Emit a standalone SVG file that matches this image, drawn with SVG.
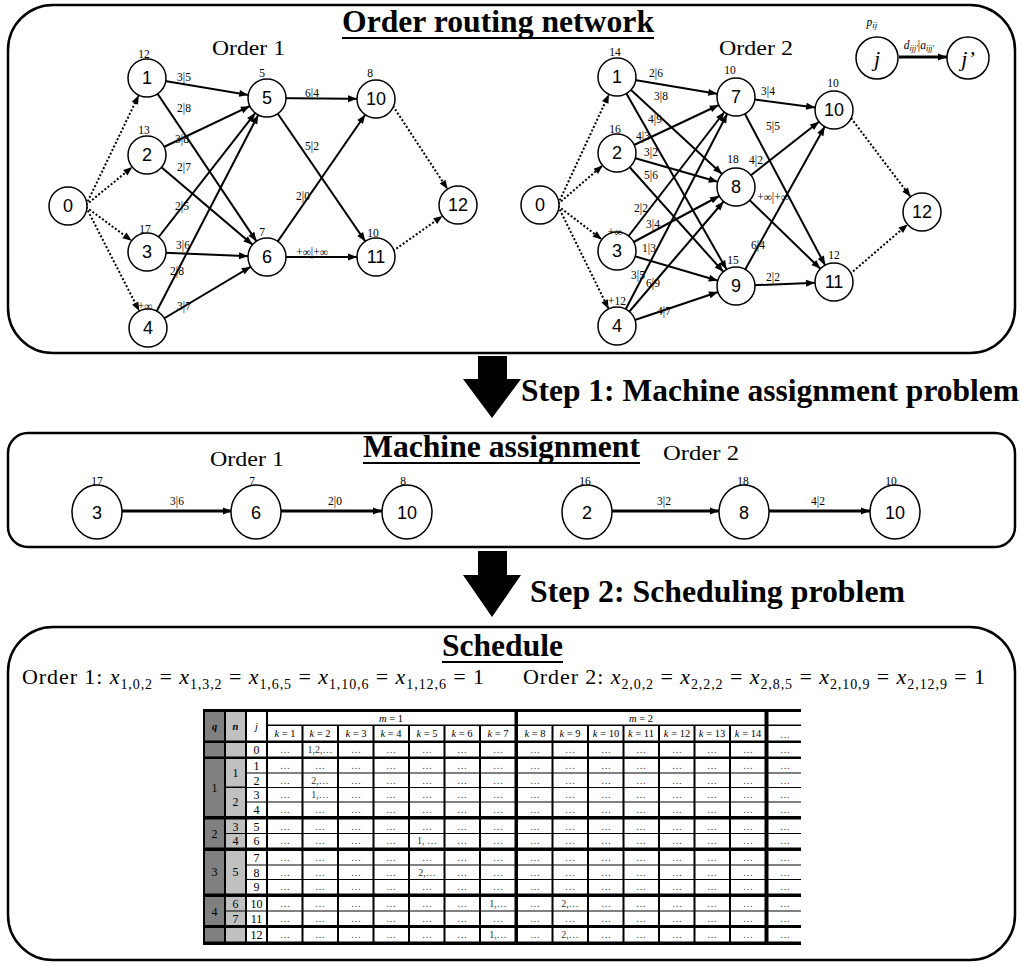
<svg xmlns="http://www.w3.org/2000/svg" width="1021" height="965" viewBox="0 0 1021 965">
<style>
.box{fill:none;stroke:#000;stroke-width:2.5}
.nd{fill:#fff;stroke:#000;stroke-width:1.5}
.nt{font-family:"Liberation Sans",Arial,sans-serif;font-size:18px;text-anchor:middle}
.lb{font-family:"Liberation Serif","Times New Roman",serif;font-size:11.5px;text-anchor:middle}
.e{stroke:#000;stroke-width:2;fill:none;marker-end:url(#a)}
.d{stroke:#000;stroke-width:2;stroke-dasharray:2 2;fill:none;marker-end:url(#a)}
.e2{stroke:#000;stroke-width:2.8;fill:none;marker-end:url(#b)}
.ttl{font-family:"Liberation Serif","Times New Roman",serif;font-weight:bold;font-size:31px}
.ord{font-family:"Liberation Serif","Times New Roman",serif;font-size:22px}
.it{font-style:italic}
.sub{font-size:14px}
.tc{font-family:"Liberation Serif","Times New Roman",serif;font-size:10px;text-anchor:middle;fill:#333}
.th{font-family:"Liberation Serif","Times New Roman",serif;font-size:10.5px;text-anchor:middle;fill:#000}
.tl{font-family:"Liberation Serif","Times New Roman",serif;font-size:12px;text-anchor:middle;fill:#000}
.wc{fill:#fff}
.qc{fill:#808080}
.nc{fill:#c0c0c0}
.big{fill:#000}
</style>
<defs>
<marker id="a" markerUnits="userSpaceOnUse" markerWidth="10" markerHeight="8" refX="28" refY="3.5" orient="auto" overflow="visible"><path d="M0,0 L9,3.5 L0,7 z" fill="#000"/></marker>
<marker id="b" markerUnits="userSpaceOnUse" markerWidth="10" markerHeight="8" refX="9" refY="3.5" orient="auto" overflow="visible"><path d="M0,0 L9,3.5 L0,7 z" fill="#000"/></marker>
</defs>
<rect width="1021" height="965" fill="#fff"/>

<g id="routing-box">
<rect class="box" x="8" y="5" width="1007" height="348" rx="45" ry="45"/>
<text class="ttl" x="342" y="32" textLength="312" lengthAdjust="spacingAndGlyphs">Order routing network</text>
<line x1="342" y1="38" x2="654" y2="38" stroke="#000" stroke-width="2"/>
<text class="ord" x="212" y="55" textLength="73" lengthAdjust="spacingAndGlyphs">Order 1</text>
<text class="ord" x="719" y="55" textLength="74" lengthAdjust="spacingAndGlyphs">Order 2</text>
</g>

<g id="step1-arrow">
<polygon class="big" points="478,356 507,356 507,379 521,379 492,418 463,379 478,379"/>
<text class="ttl" x="521" y="401" textLength="498" lengthAdjust="spacingAndGlyphs">Step 1: Machine assignment problem</text>
</g>

<g id="assign-box">
<rect class="box" x="8" y="433" width="1007" height="114" rx="20" ry="20"/>
<text class="ttl" x="363" y="457" textLength="277" lengthAdjust="spacingAndGlyphs">Machine assignment</text>
<line x1="363" y1="463" x2="640" y2="463" stroke="#000" stroke-width="2"/>
<text class="ord" x="210" y="466" textLength="74" lengthAdjust="spacingAndGlyphs">Order 1</text>
<text class="ord" x="663" y="460" textLength="76" lengthAdjust="spacingAndGlyphs">Order 2</text>
</g>

<g id="step2-arrow">
<polygon class="big" points="478,551 507,551 507,575 521,575 492,617 463,575 478,575"/>
<text class="ttl" x="530" y="602" textLength="375" lengthAdjust="spacingAndGlyphs">Step 2: Scheduling problem</text>
</g>

<g id="schedule-box">
<rect class="box" x="8" y="627" width="1007" height="333" rx="45" ry="45"/>
<text class="ttl" x="442" y="656" textLength="121" lengthAdjust="spacingAndGlyphs">Schedule</text>
<line x1="442" y1="662" x2="563" y2="662" stroke="#000" stroke-width="2"/>
<text class="ord" x="22" y="684" textLength="462" lengthAdjust="spacing">Order 1: <tspan class="it">x</tspan><tspan class="sub" dy="5">1,0,2</tspan><tspan dy="-5"> = </tspan><tspan class="it">x</tspan><tspan class="sub" dy="5">1,3,2</tspan><tspan dy="-5"> = </tspan><tspan class="it">x</tspan><tspan class="sub" dy="5">1,6,5</tspan><tspan dy="-5"> = </tspan><tspan class="it">x</tspan><tspan class="sub" dy="5">1,10,6</tspan><tspan dy="-5"> = </tspan><tspan class="it">x</tspan><tspan class="sub" dy="5">1,12,6</tspan><tspan dy="-5"> = 1</tspan></text>
<text class="ord" x="523" y="684" textLength="462" lengthAdjust="spacing">Order 2: <tspan class="it">x</tspan><tspan class="sub" dy="5">2,0,2</tspan><tspan dy="-5"> = </tspan><tspan class="it">x</tspan><tspan class="sub" dy="5">2,2,2</tspan><tspan dy="-5"> = </tspan><tspan class="it">x</tspan><tspan class="sub" dy="5">2,8,5</tspan><tspan dy="-5"> = </tspan><tspan class="it">x</tspan><tspan class="sub" dy="5">2,10,9</tspan><tspan dy="-5"> = </tspan><tspan class="it">x</tspan><tspan class="sub" dy="5">2,12,9</tspan><tspan dy="-5"> = 1</tspan></text>
</g>

<g id="connectors">
<path class="d" d="M86,205 L147,78"/>
<path class="d" d="M86,205 L147,155"/>
<path class="d" d="M86,207 L147,252"/>
<path class="d" d="M86,207 L148,328"/>
<path class="e" d="M147,78 L267,98"/>
<path class="e" d="M147,78 L267,257"/>
<path class="e" d="M147,155 L267,98"/>
<path class="e" d="M147,155 L267,257"/>
<path class="e" d="M147,252 L267,98"/>
<path class="e" d="M147,252 L267,257"/>
<path class="e" d="M148,328 L267,98"/>
<path class="e" d="M148,328 L267,257"/>
<path class="e" d="M267,98 L376,99"/>
<path class="e" d="M267,98 L376,257"/>
<path class="e" d="M267,257 L376,99"/>
<path class="e" d="M267,257 L376,257"/>
<path class="d" d="M393,106 L458,205"/>
<path class="d" d="M393,251 L458,205"/>
<text class="lb" x="184" y="81">3|5</text>
<text class="lb" x="184" y="112">2|8</text>
<text class="lb" x="182" y="143">3|8</text>
<text class="lb" x="184" y="171">2|7</text>
<text class="lb" x="182" y="210">2|5</text>
<text class="lb" x="183" y="249">3|6</text>
<text class="lb" x="177" y="275">2|8</text>
<text class="lb" x="184" y="310">3|7</text>
<text class="lb" x="312" y="97">6|4</text>
<text class="lb" x="312" y="150">5|2</text>
<text class="lb" x="303" y="200">2|0</text>
<text class="lb" x="312" y="256">+∞|+∞</text>
<path class="d" d="M558,204 L617,77"/>
<path class="d" d="M558,204 L617,153"/>
<path class="d" d="M558,206 L617,251"/>
<path class="d" d="M558,206 L617,326"/>
<path class="e" d="M617,77 L736,97"/>
<path class="e" d="M617,77 L736,187"/>
<path class="e" d="M617,77 L736,286"/>
<path class="e" d="M617,153 L736,97"/>
<path class="e" d="M617,153 L736,187"/>
<path class="e" d="M617,153 L736,286"/>
<path class="e" d="M617,251 L736,97"/>
<path class="e" d="M617,251 L736,187"/>
<path class="e" d="M617,251 L736,286"/>
<path class="e" d="M617,326 L736,97"/>
<path class="e" d="M617,326 L736,187"/>
<path class="e" d="M617,326 L736,286"/>
<path class="e" d="M736,97 L834,110"/>
<path class="e" d="M736,97 L834,282"/>
<path class="e" d="M736,187 L834,110"/>
<path class="e" d="M736,187 L834,282"/>
<path class="e" d="M736,286 L834,110"/>
<path class="e" d="M736,286 L834,282"/>
<path class="d" d="M851,118 L922,212"/>
<path class="d" d="M850,274 L922,212"/>
<text class="lb" x="656" y="77">2|6</text>
<text class="lb" x="661" y="100">3|8</text>
<text class="lb" x="655" y="123">4|9</text>
<text class="lb" x="643" y="140">4|3</text>
<text class="lb" x="651" y="156">3|2</text>
<text class="lb" x="651" y="179">5|6</text>
<text class="lb" x="641" y="212">2|2</text>
<text class="lb" x="653" y="228">3|4</text>
<text class="lb" x="649" y="252">1|3</text>
<text class="lb" x="638" y="279">3|5</text>
<text class="lb" x="653" y="287">6|9</text>
<text class="lb" x="664" y="315">4|7</text>
<text class="lb" x="768" y="95">3|4</text>
<text class="lb" x="773" y="130">5|5</text>
<text class="lb" x="756" y="164">4|2</text>
<text class="lb" x="773" y="201">+∞|+∞</text>
<text class="lb" x="758" y="249">6|4</text>
<text class="lb" x="773" y="281">2|2</text>
<path class="e2" d="M899,57 L947,57"/>
<text class="lb" x="919" y="49" font-size="13" font-style="italic">d<tspan font-size="8" dy="2">ijj'</tspan><tspan dy="-2" font-style="normal">|</tspan>a<tspan font-size="8" dy="2">ijj'</tspan></text>
<path class="e2" d="M122,511 L232,511"/>
<path class="e2" d="M281,511 L382,511"/>
<path class="e2" d="M612,511 L719,511"/>
<path class="e2" d="M769,511 L870,511"/>
<text class="lb" x="177" y="505" font-size="13">3|6</text>
<text class="lb" x="335" y="505" font-size="13">2|0</text>
<text class="lb" x="664" y="505" font-size="13">3|2</text>
<text class="lb" x="818" y="505" font-size="13">4|2</text>
</g>

<g id="o1-n0"><circle class="nd" cx="68" cy="206" r="19"/><text class="nt" x="68" y="212">0</text></g>
<g id="o1-n1"><circle class="nd" cx="147" cy="78" r="19"/><text class="nt" x="147" y="84">1</text><text class="lb" x="144" y="58">12</text></g>
<g id="o1-n2"><circle class="nd" cx="147" cy="155" r="19"/><text class="nt" x="147" y="161">2</text><text class="lb" x="144" y="134">13</text></g>
<g id="o1-n3"><circle class="nd" cx="147" cy="252" r="19"/><text class="nt" x="147" y="258">3</text><text class="lb" x="145" y="233">17</text></g>
<g id="o1-n4"><circle class="nd" cx="148" cy="328" r="19"/><text class="nt" x="148" y="334">4</text><text class="lb" x="145" y="310">+∞</text></g>
<g id="o1-n5"><circle class="nd" cx="267" cy="98" r="19"/><text class="nt" x="267" y="104">5</text><text class="lb" x="262" y="77">5</text></g>
<g id="o1-n6"><circle class="nd" cx="267" cy="257" r="19"/><text class="nt" x="267" y="263">6</text><text class="lb" x="262" y="236">7</text></g>
<g id="o1-n10"><circle class="nd" cx="376" cy="99" r="19"/><text class="nt" x="376" y="105">10</text><text class="lb" x="370" y="77">8</text></g>
<g id="o1-n11"><circle class="nd" cx="376" cy="257" r="19"/><text class="nt" x="376" y="263">11</text><text class="lb" x="373" y="237">10</text></g>
<g id="o1-n12"><circle class="nd" cx="458" cy="205" r="19"/><text class="nt" x="458" y="211">12</text></g>

<g id="o2-n0"><circle class="nd" cx="540" cy="205" r="19"/><text class="nt" x="540" y="211">0</text></g>
<g id="o2-n1"><circle class="nd" cx="617" cy="77" r="19"/><text class="nt" x="617" y="83">1</text><text class="lb" x="615" y="56">14</text></g>
<g id="o2-n2"><circle class="nd" cx="617" cy="153" r="19"/><text class="nt" x="617" y="159">2</text><text class="lb" x="615" y="133">16</text></g>
<g id="o2-n3"><circle class="nd" cx="617" cy="251" r="19"/><text class="nt" x="617" y="257">3</text><text class="lb" x="615" y="236">+∞</text></g>
<g id="o2-n4"><circle class="nd" cx="617" cy="326" r="19"/><text class="nt" x="617" y="332">4</text><text class="lb" x="617" y="305">+12</text></g>
<g id="o2-n7"><circle class="nd" cx="736" cy="97" r="19"/><text class="nt" x="736" y="103">7</text><text class="lb" x="730" y="74">10</text></g>
<g id="o2-n8"><circle class="nd" cx="736" cy="187" r="19"/><text class="nt" x="736" y="193">8</text><text class="lb" x="733" y="163">18</text></g>
<g id="o2-n9"><circle class="nd" cx="736" cy="286" r="19"/><text class="nt" x="736" y="292">9</text><text class="lb" x="733" y="264">15</text></g>
<g id="o2-n10"><circle class="nd" cx="834" cy="110" r="19"/><text class="nt" x="834" y="116">10</text><text class="lb" x="833" y="87">10</text></g>
<g id="o2-n11"><circle class="nd" cx="834" cy="282" r="19"/><text class="nt" x="834" y="288">11</text><text class="lb" x="834" y="259">12</text></g>
<g id="o2-n12"><circle class="nd" cx="922" cy="212" r="19"/><text class="nt" x="922" y="218">12</text></g>

<g id="legend-j"><circle class="nd" cx="877" cy="58" r="21"/><text class="ord it" x="877" y="66" text-anchor="middle">j</text><text class="lb it" x="872" y="26" font-size="14">p<tspan font-size="9" dy="2">ij</tspan></text></g>
<g id="legend-jp"><circle class="nd" cx="968" cy="58" r="21"/><text class="ord it" x="968" y="66" text-anchor="middle">j’</text></g>

<g id="ma-o1-3"><ellipse class="nd" cx="97" cy="512" rx="25" ry="27"/><text class="nt" x="97" y="519" font-size="20">3</text><text class="lb" x="97" y="485" font-size="14">17</text></g>
<g id="ma-o1-6"><ellipse class="nd" cx="256" cy="512" rx="25" ry="27"/><text class="nt" x="256" y="519" font-size="20">6</text><text class="lb" x="252" y="485" font-size="14">7</text></g>
<g id="ma-o1-10"><ellipse class="nd" cx="407" cy="512" rx="25" ry="27"/><text class="nt" x="407" y="519" font-size="20">10</text><text class="lb" x="403" y="485" font-size="14">8</text></g>
<g id="ma-o2-2"><ellipse class="nd" cx="587" cy="512" rx="25" ry="27"/><text class="nt" x="587" y="519" font-size="20">2</text><text class="lb" x="585" y="485" font-size="14">16</text></g>
<g id="ma-o2-8"><ellipse class="nd" cx="744" cy="512" rx="25" ry="27"/><text class="nt" x="744" y="519" font-size="20">8</text><text class="lb" x="743" y="485" font-size="14">18</text></g>
<g id="ma-o2-10"><ellipse class="nd" cx="895" cy="512" rx="25" ry="27"/><text class="nt" x="895" y="519" font-size="20">10</text><text class="lb" x="891" y="485" font-size="14">10</text></g>

<g id="schedule-table">
<rect x="203" y="709" width="598" height="236" fill="#000"/>
<rect class="qc" x="205" y="712" width="19" height="28.5"/>
<rect class="qc" x="205" y="743" width="19" height="13.5"/>
<rect class="qc" x="205" y="759" width="19" height="57"/>
<rect class="qc" x="205" y="819.5" width="19" height="28"/>
<rect class="qc" x="205" y="851" width="19" height="42.5"/>
<rect class="qc" x="205" y="897" width="19" height="28"/>
<rect class="qc" x="205" y="928" width="19" height="13.5"/>
<rect class="nc" x="226" y="712" width="19" height="28.5"/>
<rect class="nc" x="226" y="743" width="19" height="13.5"/>
<rect class="nc" x="226" y="759" width="19" height="27.5"/>
<rect class="nc" x="226" y="788" width="19" height="28"/>
<rect class="nc" x="226" y="819.5" width="19" height="13.5"/>
<rect class="nc" x="226" y="834" width="19" height="13.5"/>
<rect class="nc" x="226" y="851" width="19" height="42.5"/>
<rect class="nc" x="226" y="897" width="19" height="13.5"/>
<rect class="nc" x="226" y="911.5" width="19" height="13.5"/>
<rect class="nc" x="226" y="928" width="19" height="13.5"/>
<rect class="wc" x="247" y="712" width="19" height="28.5"/>
<rect class="wc" x="247" y="743" width="19" height="13.5"/>
<rect class="wc" x="247" y="759" width="19" height="13.5"/>
<rect class="wc" x="247" y="773.5" width="19" height="13.5"/>
<rect class="wc" x="247" y="788" width="19" height="13.5"/>
<rect class="wc" x="247" y="802.5" width="19" height="13.5"/>
<rect class="wc" x="247" y="819.5" width="19" height="13.5"/>
<rect class="wc" x="247" y="834" width="19" height="13.5"/>
<rect class="wc" x="247" y="851" width="19" height="13.5"/>
<rect class="wc" x="247" y="865.5" width="19" height="13.5"/>
<rect class="wc" x="247" y="880" width="19" height="13.5"/>
<rect class="wc" x="247" y="897" width="19" height="13.5"/>
<rect class="wc" x="247" y="911.5" width="19" height="13.5"/>
<rect class="wc" x="247" y="928" width="19" height="13.5"/>
<rect class="wc" x="268" y="712" width="533" height="12.5"/>
<rect class="wc" x="268" y="726" width="533" height="14.5"/>
<rect class="wc" x="268" y="743" width="533" height="13.5"/>
<rect class="wc" x="268" y="759" width="533" height="13.5"/>
<rect class="wc" x="268" y="773.5" width="533" height="13.5"/>
<rect class="wc" x="268" y="788" width="533" height="13.5"/>
<rect class="wc" x="268" y="802.5" width="533" height="13.5"/>
<rect class="wc" x="268" y="819.5" width="533" height="13.5"/>
<rect class="wc" x="268" y="834" width="533" height="13.5"/>
<rect class="wc" x="268" y="851" width="533" height="13.5"/>
<rect class="wc" x="268" y="865.5" width="533" height="13.5"/>
<rect class="wc" x="268" y="880" width="533" height="13.5"/>
<rect class="wc" x="268" y="897" width="533" height="13.5"/>
<rect class="wc" x="268" y="911.5" width="533" height="13.5"/>
<rect class="wc" x="268" y="928" width="533" height="13.5"/>
<g fill="#000">
<rect x="301.5" y="726" width="2" height="216"/>
<rect x="337" y="726" width="2" height="216"/>
<rect x="372.5" y="726" width="2" height="216"/>
<rect x="408" y="726" width="2" height="216"/>
<rect x="443.5" y="726" width="2" height="216"/>
<rect x="479" y="726" width="2" height="216"/>
<rect x="514.5" y="712" width="3.5" height="230"/>
<rect x="551.5" y="726" width="2" height="216"/>
<rect x="587" y="726" width="2" height="216"/>
<rect x="622.5" y="726" width="2" height="216"/>
<rect x="658" y="726" width="2" height="216"/>
<rect x="693.5" y="726" width="2" height="216"/>
<rect x="729" y="726" width="2" height="216"/>
<rect x="764.5" y="712" width="4" height="230"/>
</g>
<text class="th" x="214.5" y="730" font-weight="bold" font-style="italic">q</text>
<text class="th" x="235.5" y="730" font-weight="bold" font-style="italic">n</text>
<text class="th" x="256.5" y="730" font-style="italic" font-size="12">j</text>
<text class="th" x="391" y="722"><tspan font-style="italic">m</tspan> = 1</text>
<text class="th" x="641" y="722"><tspan font-style="italic">m</tspan> = 2</text>
<text class="th" x="285" y="737"><tspan font-style="italic">k</tspan> = 1</text>
<text class="th" x="320" y="737"><tspan font-style="italic">k</tspan> = 2</text>
<text class="th" x="356" y="737"><tspan font-style="italic">k</tspan> = 3</text>
<text class="th" x="391" y="737"><tspan font-style="italic">k</tspan> = 4</text>
<text class="th" x="427" y="737"><tspan font-style="italic">k</tspan> = 5</text>
<text class="th" x="462" y="737"><tspan font-style="italic">k</tspan> = 6</text>
<text class="th" x="498" y="737"><tspan font-style="italic">k</tspan> = 7</text>
<text class="th" x="535" y="737"><tspan font-style="italic">k</tspan> = 8</text>
<text class="th" x="570" y="737"><tspan font-style="italic">k</tspan> = 9</text>
<text class="th" x="606" y="737"><tspan font-style="italic">k</tspan> = 10</text>
<text class="th" x="641" y="737"><tspan font-style="italic">k</tspan> = 11</text>
<text class="th" x="677" y="737"><tspan font-style="italic">k</tspan> = 12</text>
<text class="th" x="712" y="737"><tspan font-style="italic">k</tspan> = 13</text>
<text class="th" x="748" y="737"><tspan font-style="italic">k</tspan> = 14</text>
<text class="tc" x="785" y="738">…</text>
<text class="tl" x="214.5" y="792">1</text>
<text class="tl" x="214.5" y="838">2</text>
<text class="tl" x="214.5" y="876">3</text>
<text class="tl" x="214.5" y="915.5">4</text>
<text class="tl" x="235.5" y="777">1</text>
<text class="tl" x="235.5" y="806">2</text>
<text class="tl" x="235.5" y="830.5">3</text>
<text class="tl" x="235.5" y="845">4</text>
<text class="tl" x="235.5" y="876">5</text>
<text class="tl" x="235.5" y="908">6</text>
<text class="tl" x="235.5" y="922.5">7</text>
<text class="tl" x="256.5" y="754" font-family="Liberation Sans, Arial, sans-serif" font-size="11">0</text>
<text class="tl" x="256.5" y="770">1</text>
<text class="tl" x="256.5" y="784.5">2</text>
<text class="tl" x="256.5" y="799">3</text>
<text class="tl" x="256.5" y="813.5">4</text>
<text class="tl" x="256.5" y="830.5">5</text>
<text class="tl" x="256.5" y="845">6</text>
<text class="tl" x="256.5" y="862">7</text>
<text class="tl" x="256.5" y="876.5">8</text>
<text class="tl" x="256.5" y="891">9</text>
<text class="tl" x="256.5" y="908">10</text>
<text class="tl" x="256.5" y="922.5">11</text>
<text class="tl" x="256.5" y="939">12</text>
<!-- row 0 -->
<text class="tc" y="753"><tspan x="285">…</tspan><tspan x="320">1,2,…</tspan><tspan x="356">…</tspan><tspan x="391">…</tspan><tspan x="427">…</tspan><tspan x="462">…</tspan><tspan x="498">…</tspan><tspan x="535">…</tspan><tspan x="570">…</tspan><tspan x="606">…</tspan><tspan x="641">…</tspan><tspan x="677">…</tspan><tspan x="712">…</tspan><tspan x="748">…</tspan><tspan x="785">…</tspan></text>
<!-- row 1 -->
<text class="tc" y="769"><tspan x="285">…</tspan><tspan x="320">…</tspan><tspan x="356">…</tspan><tspan x="391">…</tspan><tspan x="427">…</tspan><tspan x="462">…</tspan><tspan x="498">…</tspan><tspan x="535">…</tspan><tspan x="570">…</tspan><tspan x="606">…</tspan><tspan x="641">…</tspan><tspan x="677">…</tspan><tspan x="712">…</tspan><tspan x="748">…</tspan><tspan x="785">…</tspan></text>
<!-- row 2 -->
<text class="tc" y="783.5"><tspan x="285">…</tspan><tspan x="320">2,…</tspan><tspan x="356">…</tspan><tspan x="391">…</tspan><tspan x="427">…</tspan><tspan x="462">…</tspan><tspan x="498">…</tspan><tspan x="535">…</tspan><tspan x="570">…</tspan><tspan x="606">…</tspan><tspan x="641">…</tspan><tspan x="677">…</tspan><tspan x="712">…</tspan><tspan x="748">…</tspan><tspan x="785">…</tspan></text>
<!-- row 3 -->
<text class="tc" y="798"><tspan x="285">…</tspan><tspan x="320">1,…</tspan><tspan x="356">…</tspan><tspan x="391">…</tspan><tspan x="427">…</tspan><tspan x="462">…</tspan><tspan x="498">…</tspan><tspan x="535">…</tspan><tspan x="570">…</tspan><tspan x="606">…</tspan><tspan x="641">…</tspan><tspan x="677">…</tspan><tspan x="712">…</tspan><tspan x="748">…</tspan><tspan x="785">…</tspan></text>
<!-- row 4 -->
<text class="tc" y="812.5"><tspan x="285">…</tspan><tspan x="320">…</tspan><tspan x="356">…</tspan><tspan x="391">…</tspan><tspan x="427">…</tspan><tspan x="462">…</tspan><tspan x="498">…</tspan><tspan x="535">…</tspan><tspan x="570">…</tspan><tspan x="606">…</tspan><tspan x="641">…</tspan><tspan x="677">…</tspan><tspan x="712">…</tspan><tspan x="748">…</tspan><tspan x="785">…</tspan></text>
<!-- row 5 -->
<text class="tc" y="829.5"><tspan x="285">…</tspan><tspan x="320">…</tspan><tspan x="356">…</tspan><tspan x="391">…</tspan><tspan x="427">…</tspan><tspan x="462">…</tspan><tspan x="498">…</tspan><tspan x="535">…</tspan><tspan x="570">…</tspan><tspan x="606">…</tspan><tspan x="641">…</tspan><tspan x="677">…</tspan><tspan x="712">…</tspan><tspan x="748">…</tspan><tspan x="785">…</tspan></text>
<!-- row 6 -->
<text class="tc" y="844"><tspan x="285">…</tspan><tspan x="320">…</tspan><tspan x="356">…</tspan><tspan x="391">…</tspan><tspan x="427">1, …</tspan><tspan x="462">…</tspan><tspan x="498">…</tspan><tspan x="535">…</tspan><tspan x="570">…</tspan><tspan x="606">…</tspan><tspan x="641">…</tspan><tspan x="677">…</tspan><tspan x="712">…</tspan><tspan x="748">…</tspan><tspan x="785">…</tspan></text>
<!-- row 7 -->
<text class="tc" y="861"><tspan x="285">…</tspan><tspan x="320">…</tspan><tspan x="356">…</tspan><tspan x="391">…</tspan><tspan x="427">…</tspan><tspan x="462">…</tspan><tspan x="498">…</tspan><tspan x="535">…</tspan><tspan x="570">…</tspan><tspan x="606">…</tspan><tspan x="641">…</tspan><tspan x="677">…</tspan><tspan x="712">…</tspan><tspan x="748">…</tspan><tspan x="785">…</tspan></text>
<!-- row 8 -->
<text class="tc" y="875.5"><tspan x="285">…</tspan><tspan x="320">…</tspan><tspan x="356">…</tspan><tspan x="391">…</tspan><tspan x="427">2,…</tspan><tspan x="462">…</tspan><tspan x="498">…</tspan><tspan x="535">…</tspan><tspan x="570">…</tspan><tspan x="606">…</tspan><tspan x="641">…</tspan><tspan x="677">…</tspan><tspan x="712">…</tspan><tspan x="748">…</tspan><tspan x="785">…</tspan></text>
<!-- row 9 -->
<text class="tc" y="890"><tspan x="285">…</tspan><tspan x="320">…</tspan><tspan x="356">…</tspan><tspan x="391">…</tspan><tspan x="427">…</tspan><tspan x="462">…</tspan><tspan x="498">…</tspan><tspan x="535">…</tspan><tspan x="570">…</tspan><tspan x="606">…</tspan><tspan x="641">…</tspan><tspan x="677">…</tspan><tspan x="712">…</tspan><tspan x="748">…</tspan><tspan x="785">…</tspan></text>
<!-- row 10 -->
<text class="tc" y="907"><tspan x="285">…</tspan><tspan x="320">…</tspan><tspan x="356">…</tspan><tspan x="391">…</tspan><tspan x="427">…</tspan><tspan x="462">…</tspan><tspan x="498">1,…</tspan><tspan x="535">…</tspan><tspan x="570">2,…</tspan><tspan x="606">…</tspan><tspan x="641">…</tspan><tspan x="677">…</tspan><tspan x="712">…</tspan><tspan x="748">…</tspan><tspan x="785">…</tspan></text>
<!-- row 11 -->
<text class="tc" y="921.5"><tspan x="285">…</tspan><tspan x="320">…</tspan><tspan x="356">…</tspan><tspan x="391">…</tspan><tspan x="427">…</tspan><tspan x="462">…</tspan><tspan x="498">…</tspan><tspan x="535">…</tspan><tspan x="570">…</tspan><tspan x="606">…</tspan><tspan x="641">…</tspan><tspan x="677">…</tspan><tspan x="712">…</tspan><tspan x="748">…</tspan><tspan x="785">…</tspan></text>
<!-- row 12 -->
<text class="tc" y="938"><tspan x="285">…</tspan><tspan x="320">…</tspan><tspan x="356">…</tspan><tspan x="391">…</tspan><tspan x="427">…</tspan><tspan x="462">…</tspan><tspan x="498">1,…</tspan><tspan x="535">…</tspan><tspan x="570">2,…</tspan><tspan x="606">…</tspan><tspan x="641">…</tspan><tspan x="677">…</tspan><tspan x="712">…</tspan><tspan x="748">…</tspan><tspan x="785">…</tspan></text>
</g>
</svg>
